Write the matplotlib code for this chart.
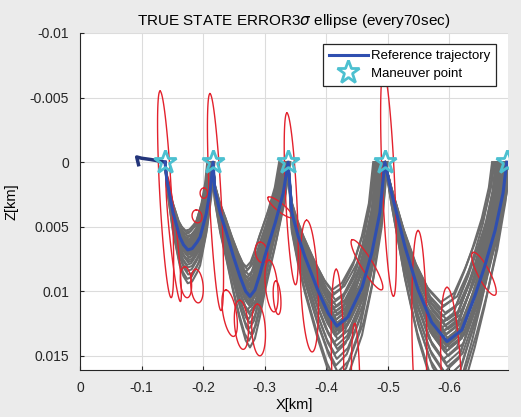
import numpy as np
import matplotlib
matplotlib.use("Agg")
import matplotlib.pyplot as plt

plt.rcParams['font.family'] = ['Liberation Sans', 'DejaVu Sans']

# reference trajectory (X km, Z km)
tail_x = [-0.095, -0.092, -0.100, -0.115, -0.138]
tail_z = [0.0002, -0.0004, -0.0003, -0.0002, 0.0]

arc1_x = [-0.138, -0.141, -0.151, -0.162, -0.168, -0.175, -0.182, -0.190, -0.195, -0.205, -0.212, -0.216]
arc1_z = [0.0, 0.0014, 0.0039, 0.0058, 0.0064, 0.0068, 0.0067, 0.0062, 0.0058, 0.0040, 0.0020, 0.0]

arc2_x = [-0.216, -0.219, -0.228, -0.238, -0.249, -0.260, -0.269, -0.276, -0.284, -0.292, -0.300, -0.317, -0.330, -0.338]
arc2_z = [0.0, 0.0022, 0.0040, 0.0055, 0.0073, 0.0089, 0.0100, 0.0104, 0.0099, 0.0087, 0.0073, 0.0047, 0.0024, 0.0]

arc3_x = [-0.338, -0.344, -0.354, -0.365, -0.386, -0.403, -0.417, -0.435, -0.458, -0.474, -0.487, -0.495]
arc3_z = [0.0, 0.0039, 0.0057, 0.0073, 0.0099, 0.0117, 0.0127, 0.0120, 0.0097, 0.0070, 0.0039, 0.0]

arc4_x = [-0.495, -0.506, -0.528, -0.549, -0.571, -0.596, -0.620, -0.641, -0.657, -0.674, -0.687, -0.693]
arc4_z = [0.0, 0.0024, 0.0066, 0.0099, 0.0124, 0.0139, 0.0130, 0.0104, 0.0081, 0.0053, 0.0024, 0.0]

man_x = [-0.138, -0.216, -0.338, -0.495, -0.693]
man_z = [0.0, 0.0, 0.0, 0.0, 0.0]

# monte carlo spread (depth / width factor of each gray run)
gray_depth = [0.78, 0.80, 0.82, 0.84, 0.86, 0.88, 0.89, 0.90, 0.91, 0.92, 0.93, 0.94,
              0.95, 0.96, 0.97, 0.98, 0.99, 1.00, 1.01, 1.02, 1.03, 1.04, 1.05, 1.06,
              1.08, 1.10, 1.12, 1.14, 1.17, 1.20, 1.24, 1.28, 1.33, 1.38]
gray_width = [0.90, 0.94, 0.88, 0.97, 0.92, 1.00, 0.95, 0.89, 0.98, 0.93, 1.02, 0.96,
              0.91, 0.99, 0.94, 1.01, 0.97, 1.00, 0.92, 0.98, 1.03, 0.95, 1.00, 0.97,
              1.02, 0.94, 0.99, 1.01, 0.96, 1.00, 0.98, 1.02, 0.97, 1.00]

# 3 sigma ellipses: centre and two semi-axis vectors
ell_cx = [-0.139, -0.152, -0.220, -0.343, -0.501, -0.551, -0.603, -0.656, -0.325, -0.3725,
          -0.418, -0.448, -0.466, -0.2947, -0.311, -0.262, -0.290, -0.243, -0.172, -0.190,
          -0.190, -0.201, -0.320]
ell_cz = [0.0025, 0.0059, 0.0031, 0.00285, 0.0017, 0.0129, 0.0166, 0.00865, 0.0035, 0.0096,
          0.0145, 0.0180, 0.00795, 0.0070, 0.0096, 0.0126, 0.0130, 0.0117, 0.0093, 0.0096,
          0.0042, 0.0024, 0.0105]
ell_ax = [0.009, 0.011, 0.009, 0.007, 0.008, 0.002, 0.007, 0.018, 0.0195, 0.0045,
          0.002, 0.002, 0.0244, 0.002, 0.004, 0.003, 0.002, 0.006, 0.002, 0.002,
          0.001, 0.0, 0.002]
ell_az = [-0.008, -0.0049, -0.0084, -0.00665, -0.0087, -0.0076, -0.0069, -0.00165, -0.00077, -0.0051,
          -0.0062, -0.0055, -0.00193, -0.0008, -0.002, -0.0019, -0.002, -0.0018, -0.0012, -0.0013,
          -0.0005, -0.0004, -0.0013]
ell_bx = [0.0095, 0.006, 0.0095, 0.009, 0.010, 0.012, 0.016, -0.0086, -0.0042, 0.014,
          0.010, 0.007, -0.0084, 0.010, 0.010, 0.011, 0.011, 0.011, 0.009, 0.010,
          0.008, 0.006, 0.006]
ell_bz = [0.0, 0.0, 0.0, 0.0, 0.0, 0.0, 0.0, -0.00022, -0.00024, 0.0,
          0.0, 0.0, -0.00024, 0.0, 0.0, 0.0, 0.0, 0.0, 0.0, 0.0,
          0.0, 0.0, 0.0]

arcs = [(arc1_x, arc1_z), (arc2_x, arc2_z), (arc3_x, arc3_z), (arc4_x, arc4_z)]

fig = plt.figure(figsize=(5.21, 4.17), dpi=100, facecolor='#ebebeb')
ax = fig.add_axes([0.1536, 0.1127, 0.8214, 0.8082])

# gray runs
for ax_, az_ in arcs:
    xs = np.array(ax_)
    zs = np.array(az_)
    for d, w in zip(gray_depth, gray_width):
        ax.plot(xs[0] + (xs - xs[0]) * w, zs * d, color='#6c6c6c', lw=1.5, zorder=1)

# ellipses
t = np.linspace(0, 2 * np.pi, 90)
for cx, cz, a1, a2, b1, b2 in zip(ell_cx, ell_cz, ell_ax, ell_az, ell_bx, ell_bz):
    ex = cx + a1 * np.cos(t) + b1 * np.sin(t)
    ez = cz + a2 * np.cos(t) + b2 * np.sin(t)
    ax.plot(ex, ez, color='#e3222d', lw=1.0, zorder=2)

# reference trajectory
ax.plot(tail_x, tail_z, color='#23357a', lw=2.5, zorder=3)
ref, = ax.plot(np.concatenate([a[0] for a in arcs]), np.concatenate([a[1] for a in arcs]),
               color='#2f4fb0', lw=2.2, zorder=3, label='Reference trajectory')
man, = ax.plot(man_x, man_z, ls='none', marker='*', ms=17, mfc='none', mec='#4cc0d0',
               mew=2.0, zorder=4, label='Maneuver point')

ax.set_xlim(0, -0.695)
ax.set_ylim(0.0161, -0.01)
ax.set_xticks([0, -0.1, -0.2, -0.3, -0.4, -0.5, -0.6])
ax.set_xticklabels(['0', '-0.1', '-0.2', '-0.3', '-0.4', '-0.5', '-0.6'])
ax.set_yticks([-0.01, -0.005, 0, 0.005, 0.01, 0.015])
ax.set_yticklabels(['-0.01', '-0.005', '0', '0.005', '0.01', '0.015'])
ax.tick_params(direction='in', labelsize=10, length=3, colors='#262626', pad=8)
ax.grid(True, color='#dcdcdc', lw=0.8)
ax.set_axisbelow(True)
for s in ['top', 'right']:
    ax.spines[s].set_visible(False)
for s in ['left', 'bottom']:
    ax.spines[s].set_color('#262626')

ax.set_xlabel('X[km]', fontsize=10.5, labelpad=2)
ax.set_ylabel('Z[km]', fontsize=10.5, labelpad=8)
ax.set_title('TRUE STATE ERROR3$\\sigma$ ellipse (every70sec)', fontsize=11, pad=6)

leg = ax.legend(handles=[ref, man], loc='upper right', bbox_to_anchor=(0.972, 0.967),
                fontsize=9.5, fancybox=False, edgecolor='#262626', framealpha=1,
                handlelength=3.0, handletextpad=0.2, labelspacing=0.4, borderpad=0.45,
                borderaxespad=0)
leg.get_frame().set_linewidth(0.9)
leg.set_zorder(10)

fig.savefig('out.png', dpi=100, facecolor=fig.get_facecolor())
